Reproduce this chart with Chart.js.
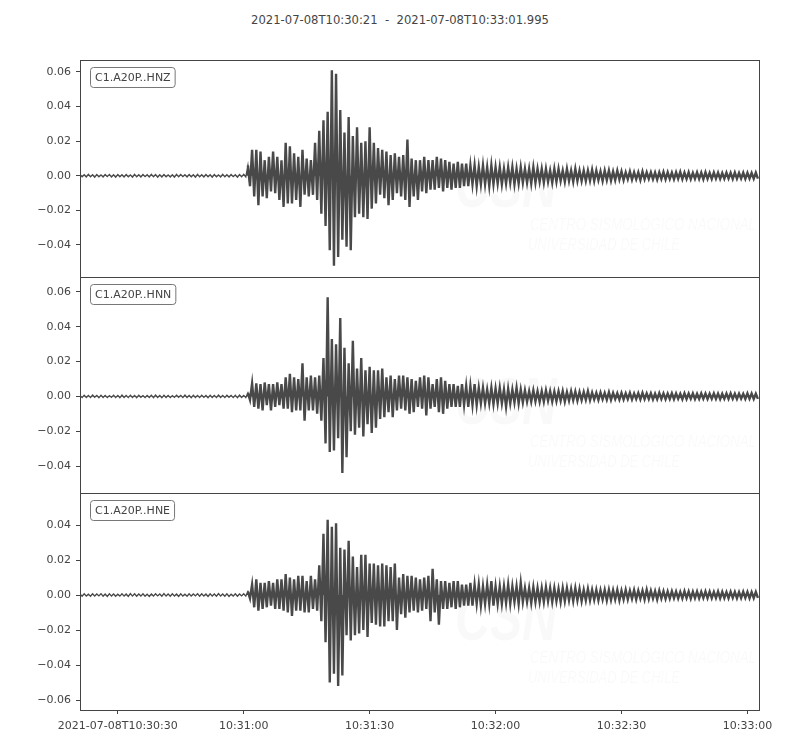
<!DOCTYPE html>
<html>
<head>
<meta charset="utf-8">
<script src="https://cdn.jsdelivr.net/npm/chart.js@4.4.1/dist/chart.umd.min.js"></script>
<style>
  html, body { margin: 0; padding: 0; background: #fff; }
  #wrap { position: relative; width: 800px; height: 750px; }
  #title { position: absolute; left: 0; top: 13px; width: 800px; text-align: center;
           font: 11.6px "DejaVu Sans"; color: #444; white-space: pre; }
  canvas { position: absolute; left: 0; }
</style>
</head>
<body>
<div id="wrap">
  <div id="title">2021-07-08T10:30:21  -  2021-07-08T10:33:01.995</div>
  <canvas id="hnz" width="800" height="245" style="top:46px"></canvas>
  <canvas id="hnn" width="800" height="244" style="top:263px"></canvas>
  <canvas id="hne" width="800" height="271" style="top:479px"></canvas>
</div>
<script>
// one value per second after 2021-07-08T10:30:21 (peak and trough of the trace in that second)
const hnzMax = [
  0.0007,0.0006,0.0008,0.0006,0.0007,0.0005,0.0007,0.0008,0.0006,0.0007,
  0.0006,0.0007,0.0005,0.0008,0.0006,0.0007,0.0006,0.0008,0.0007,0.0006,
  0.0007,0.0005,0.0006,0.0008,0.0007,0.0006,0.0007,0.0006,0.0008,0.0006,
  0.0007,0.0006,0.0007,0.0005,0.0008,0.0006,0.0007,0.0006,0.0007,0.0008,
  0.006,0.015,0.015,0.014,0.009,0.011,0.014,0.011,0.009,0.019,
  0.017,0.013,0.011,0.015,0.010,0.009,0.019,0.026,0.032,0.037,
  0.061,0.059,0.038,0.025,0.034,0.023,0.028,0.019,0.020,0.028,
  0.019,0.016,0.015,0.014,0.012,0.013,0.011,0.012,0.021,0.010,
  0.009,0.009,0.011,0.009,0.009,0.011,0.010,0.009,0.008,0.007,
  0.008,0.007,0.007,0.006,0.006,0.005,0.006,0.005,0.006,0.005,
  0.005,0.004,0.005,0.005,0.004,0.005,0.004,0.004,0.005,0.004,
  0.004,0.004,0.003,0.004,0.004,0.003,0.004,0.003,0.004,0.003,
  0.003,0.003,0.0035,0.003,0.0025,0.003,0.003,0.0025,0.003,0.0025,
  0.002,0.0025,0.002,0.002,0.0025,0.002,0.002,0.0018,0.002,0.0022,
  0.002,0.0018,0.002,0.0022,0.0018,0.002,0.0017,0.002,0.0018,0.002,
  0.0017,0.0019,0.0018,0.0016,0.0018,0.0017,0.0019,0.0016,0.0018,0.0017,
  0.0016,0.0018
];
const hnzMin = [
  -0.0006,-0.0007,-0.0006,-0.0008,-0.0006,-0.0007,-0.0005,-0.0007,-0.0008,-0.0006,
  -0.0007,-0.0006,-0.0008,-0.0006,-0.0007,-0.0005,-0.0007,-0.0006,-0.0008,-0.0007,
  -0.0006,-0.0007,-0.0008,-0.0006,-0.0005,-0.0007,-0.0006,-0.0008,-0.0006,-0.0007,
  -0.0006,-0.0008,-0.0006,-0.0007,-0.0006,-0.0007,-0.0005,-0.0008,-0.0006,-0.0007,
  -0.006,-0.012,-0.017,-0.012,-0.013,-0.009,-0.010,-0.014,-0.018,-0.016,
  -0.016,-0.014,-0.018,-0.011,-0.012,-0.011,-0.014,-0.022,-0.029,-0.043,
  -0.052,-0.047,-0.037,-0.041,-0.043,-0.024,-0.022,-0.024,-0.025,-0.019,
  -0.016,-0.011,-0.013,-0.017,-0.014,-0.010,-0.012,-0.014,-0.018,-0.012,
  -0.014,-0.009,-0.010,-0.008,-0.008,-0.007,-0.009,-0.007,-0.008,-0.007,
  -0.007,-0.006,-0.006,-0.005,-0.006,-0.005,-0.005,-0.006,-0.005,-0.0045,
  -0.005,-0.0045,-0.004,-0.005,-0.0045,-0.004,-0.004,-0.0045,-0.004,-0.0035,
  -0.004,-0.0035,-0.004,-0.0035,-0.003,-0.0035,-0.003,-0.0035,-0.003,-0.003,
  -0.003,-0.0028,-0.003,-0.0025,-0.003,-0.0025,-0.0028,-0.0025,-0.0022,-0.0025,
  -0.002,-0.0022,-0.002,-0.0024,-0.002,-0.0018,-0.002,-0.0022,-0.0018,-0.002,
  -0.0018,-0.002,-0.0017,-0.002,-0.0018,-0.0019,-0.0017,-0.0018,-0.002,-0.0017,
  -0.0018,-0.0016,-0.0018,-0.0017,-0.0016,-0.0018,-0.0017,-0.0016,-0.0018,-0.0016,
  -0.0017,-0.0016
];
const hnnMax = [
  0.0006,0.0007,0.0006,0.0008,0.0006,0.0007,0.0006,0.0005,0.0007,0.0006,
  0.0008,0.0006,0.0007,0.0006,0.0007,0.0005,0.0006,0.0007,0.0008,0.0006,
  0.0007,0.0006,0.0005,0.0007,0.0006,0.0008,0.0006,0.0007,0.0006,0.0007,
  0.0005,0.0007,0.0006,0.0008,0.0006,0.0007,0.0006,0.0007,0.0008,0.0006,
  0.002,0.0075,0.0075,0.007,0.008,0.007,0.007,0.008,0.007,0.011,
  0.013,0.011,0.010,0.019,0.011,0.012,0.011,0.012,0.022,0.057,
  0.033,0.030,0.045,0.028,0.019,0.032,0.016,0.022,0.015,0.017,
  0.015,0.015,0.016,0.011,0.012,0.010,0.012,0.012,0.011,0.010,
  0.009,0.011,0.012,0.011,0.007,0.010,0.011,0.009,0.007,0.007,
  0.006,0.007,0.006,0.006,0.007,0.005,0.005,0.004,0.005,0.0045,
  0.005,0.004,0.0045,0.004,0.005,0.004,0.0035,0.003,0.0035,0.003,
  0.003,0.0035,0.003,0.0028,0.003,0.003,0.0025,0.003,0.0028,0.0025,
  0.0025,0.003,0.0022,0.002,0.0022,0.002,0.0024,0.002,0.0018,0.002,
  0.0018,0.002,0.0017,0.0019,0.002,0.0017,0.0018,0.0016,0.0019,0.0017,
  0.0016,0.0018,0.0017,0.0015,0.0018,0.0016,0.0017,0.0015,0.0017,0.0016,
  0.0015,0.0017,0.0016,0.0015,0.0016,0.0017,0.0015,0.0016,0.0015,0.0017,
  0.0016,0.0015
];
const hnnMin = [
  -0.0007,-0.0006,-0.0007,-0.0005,-0.0008,-0.0006,-0.0007,-0.0006,-0.0007,-0.0008,
  -0.0006,-0.0007,-0.0006,-0.0008,-0.0005,-0.0007,-0.0006,-0.0007,-0.0006,-0.0008,
  -0.0006,-0.0007,-0.0006,-0.0005,-0.0007,-0.0006,-0.0008,-0.0006,-0.0007,-0.0006,
  -0.0008,-0.0006,-0.0007,-0.0006,-0.0007,-0.0005,-0.0007,-0.0008,-0.0006,-0.0007,
  -0.002,-0.006,-0.007,-0.008,-0.005,-0.008,-0.006,-0.005,-0.007,-0.007,
  -0.009,-0.008,-0.008,-0.014,-0.008,-0.008,-0.010,-0.014,-0.027,-0.032,
  -0.031,-0.024,-0.044,-0.035,-0.020,-0.022,-0.018,-0.023,-0.016,-0.021,
  -0.018,-0.013,-0.012,-0.009,-0.012,-0.008,-0.007,-0.008,-0.010,-0.009,
  -0.006,-0.007,-0.011,-0.007,-0.006,-0.009,-0.010,-0.007,-0.006,-0.006,
  -0.006,-0.005,-0.006,-0.005,-0.005,-0.004,-0.004,-0.004,-0.0045,-0.004,
  -0.004,-0.006,-0.004,-0.0035,-0.004,-0.0035,-0.003,-0.003,-0.0028,-0.003,
  -0.003,-0.0025,-0.003,-0.0028,-0.0025,-0.003,-0.0025,-0.0022,-0.0025,-0.0022,
  -0.002,-0.0022,-0.0018,-0.002,-0.0017,-0.0019,-0.002,-0.0016,-0.0018,-0.0017,
  -0.0016,-0.0018,-0.0015,-0.0017,-0.0016,-0.0015,-0.0017,-0.0016,-0.0015,-0.0016,
  -0.0015,-0.0016,-0.0014,-0.0016,-0.0015,-0.0014,-0.0016,-0.0015,-0.0014,-0.0015,
  -0.0014,-0.0015,-0.0016,-0.0014,-0.0015,-0.0014,-0.0015,-0.0013,-0.0015,-0.0014,
  -0.0015,-0.0014
];
const hneMax = [
  0.0006,0.0007,0.0005,0.0007,0.0006,0.0008,0.0006,0.0007,0.0006,0.0005,
  0.0007,0.0006,0.0008,0.0007,0.0006,0.0007,0.0005,0.0006,0.0007,0.0006,
  0.0008,0.0006,0.0007,0.0006,0.0007,0.0005,0.0007,0.0006,0.0008,0.0007,
  0.0006,0.0007,0.0006,0.0008,0.0006,0.0007,0.0005,0.0007,0.0006,0.0007,
  0.002,0.006,0.009,0.007,0.007,0.008,0.007,0.009,0.009,0.012,
  0.010,0.009,0.011,0.011,0.008,0.011,0.009,0.017,0.035,0.043,
  0.039,0.041,0.027,0.026,0.031,0.022,0.016,0.023,0.023,0.018,
  0.018,0.017,0.018,0.017,0.016,0.018,0.010,0.012,0.011,0.011,
  0.010,0.009,0.010,0.011,0.015,0.009,0.008,0.008,0.007,0.008,
  0.008,0.006,0.006,0.007,0.006,0.006,0.005,0.006,0.008,0.005,
  0.005,0.005,0.006,0.005,0.005,0.007,0.004,0.004,0.0045,0.004,
  0.004,0.0045,0.004,0.004,0.0035,0.004,0.004,0.0035,0.004,0.0035,
  0.003,0.0035,0.003,0.003,0.0028,0.003,0.003,0.0028,0.003,0.0025,
  0.003,0.0025,0.0028,0.0025,0.0025,0.003,0.0025,0.0022,0.0025,0.0022,
  0.002,0.0022,0.002,0.0018,0.0022,0.002,0.0019,0.002,0.0018,0.002,
  0.0019,0.0018,0.002,0.0018,0.0017,0.0019,0.0018,0.0017,0.0019,0.0018,
  0.0017,0.0018
];
const hneMin = [
  -0.0007,-0.0006,-0.0007,-0.0006,-0.0005,-0.0007,-0.0008,-0.0006,-0.0007,-0.0006,
  -0.0006,-0.0008,-0.0006,-0.0007,-0.0006,-0.0007,-0.0008,-0.0006,-0.0005,-0.0007,
  -0.0006,-0.0007,-0.0006,-0.0008,-0.0006,-0.0007,-0.0006,-0.0005,-0.0007,-0.0006,
  -0.0008,-0.0006,-0.0007,-0.0006,-0.0007,-0.0008,-0.0006,-0.0007,-0.0005,-0.0006,
  -0.002,-0.007,-0.009,-0.008,-0.007,-0.006,-0.008,-0.008,-0.009,-0.010,
  -0.012,-0.009,-0.009,-0.010,-0.010,-0.008,-0.009,-0.015,-0.027,-0.050,
  -0.045,-0.052,-0.046,-0.023,-0.026,-0.023,-0.022,-0.020,-0.024,-0.016,
  -0.017,-0.018,-0.018,-0.015,-0.015,-0.020,-0.011,-0.013,-0.010,-0.009,
  -0.010,-0.009,-0.008,-0.015,-0.010,-0.017,-0.008,-0.008,-0.007,-0.008,
  -0.007,-0.006,-0.006,-0.006,-0.005,-0.006,-0.005,-0.005,-0.006,-0.005,
  -0.005,-0.0045,-0.005,-0.004,-0.005,-0.004,-0.004,-0.0045,-0.004,-0.004,
  -0.004,-0.0035,-0.004,-0.0035,-0.004,-0.0035,-0.003,-0.0035,-0.003,-0.0035,
  -0.003,-0.003,-0.0028,-0.003,-0.0025,-0.003,-0.0028,-0.0025,-0.003,-0.0025,
  -0.0025,-0.0022,-0.0025,-0.002,-0.0025,-0.0022,-0.002,-0.0025,-0.002,-0.0022,
  -0.002,-0.0018,-0.002,-0.0019,-0.0017,-0.002,-0.0018,-0.0019,-0.0017,-0.0018,
  -0.0018,-0.0017,-0.0019,-0.0017,-0.0018,-0.0016,-0.0018,-0.0017,-0.0016,-0.0018,
  -0.0017,-0.0016
];

const xRange = [0, 161.995];
const xTicks = [9, 39, 69, 99, 129, 159];
const xTickLabels = ['2021-07-08T10:30:30', '10:31:00', '10:31:30', '10:32:00', '10:32:30', '10:33:00'];
const onset = 40; // first second of the event; thinner pen before it

const hnzRange = [-0.0585, 0.0669];
const hnnRange = [-0.0555, 0.0686];
const hneRange = [-0.0657, 0.0583];
const hnzTicks = [-0.04, -0.02, 0, 0.02, 0.04, 0.06];
const hnnTicks = [-0.04, -0.02, 0, 0.02, 0.04, 0.06];
const hneTicks = [-0.06, -0.04, -0.02, 0, 0.02, 0.04];

const INK = '#494949';
const TEXT = '#444';
const FONT = { family: 'DejaVu Sans', size: 11 };
const PAD = 14;

// peak at the start of each second, trough half a second later
function trace(maxs, mins, from, to) {
  const pts = [];
  for (let i = from; i < to; i++) {
    pts.push({ x: i, y: maxs[i] });
    pts.push({ x: i + 0.5, y: mins[i] });
  }
  return pts;
}

function fmtY(v) {
  if (Math.abs(v) < 1e-9) return '0.00';
  return v.toFixed(2).replace('-', '\u2212');
}

const panelDeco = {
  id: 'panelDeco',
  beforeDatasetsDraw(chart) {
    const { ctx, chartArea: a } = chart;
    ctx.save();
    ctx.fillStyle = 'rgba(0,0,0,0.025)';
    ctx.font = 'italic bold 66px "Liberation Sans"';
    ctx.fillText('CSN', a.left + 375, a.top + 147, 102);
    ctx.font = 'italic 17px "Liberation Sans"';
    ctx.fillText('CENTRO SISMOLÓGICO NACIONAL', a.left + 450, a.top + 170, 226);
    ctx.fillText('UNIVERSIDAD DE CHILE', a.left + 448, a.top + 190, 152);
    ctx.restore();
  },
  afterDraw(chart, args, opts) {
    const { ctx, chartArea: a } = chart;
    ctx.save();
    ctx.strokeStyle = TEXT;
    ctx.lineWidth = 1;
    ctx.strokeRect(Math.round(a.left) + 0.5, Math.round(a.top) + 0.5,
                   Math.round(a.right - a.left) - 1, Math.round(a.bottom - a.top));
    ctx.font = '11px "DejaVu Sans"';
    const w = ctx.measureText(opts.label).width;
    const bx = a.left + 10.5, by = a.top + 7.5, bw = w + 9, bh = 20;
    ctx.beginPath();
    ctx.roundRect(bx, by, bw, bh, 3);
    ctx.fillStyle = '#fff';
    ctx.fill();
    ctx.strokeStyle = '#777';
    ctx.stroke();
    ctx.fillStyle = TEXT;
    ctx.textBaseline = 'middle';
    ctx.fillText(opts.label, bx + 4.5, by + bh / 2 + 0.5);
    ctx.restore();
  }
};

function makePanel(id, label, maxs, mins, yRange, yTicks, showX) {
  const xScale = {
    type: 'linear',
    min: xRange[0],
    max: xRange[1],
    display: showX,
    afterBuildTicks: s => { s.ticks = xTicks.map(v => ({ value: v })); },
    ticks: {
      autoSkip: false, maxRotation: 0, padding: 6, color: TEXT, font: FONT,
      callback: (v, i) => xTickLabels[i]
    },
    grid: { drawOnChartArea: false, tickLength: 4, tickColor: TEXT },
    border: { display: false }
  };
  if (showX) xScale.afterFit = s => { s.height = 40; };
  const pen = { borderColor: INK, backgroundColor: INK, pointRadius: 0, tension: 0, fill: 'origin' };
  return new Chart(document.getElementById(id), {
    type: 'line',
    data: {
      datasets: [
        Object.assign({ data: trace(maxs, mins, 0, onset + 1), borderWidth: 1.3 }, pen),
        Object.assign({ data: trace(maxs, mins, onset, maxs.length), borderWidth: 2.4 }, pen)
      ]
    },
    options: {
      responsive: false,
      animation: false,
      layout: { padding: { left: 0, right: 40, top: PAD, bottom: showX ? 0 : PAD } },
      plugins: {
        legend: { display: false },
        tooltip: { enabled: false },
        panelDeco: { label: label }
      },
      scales: {
        x: xScale,
        y: {
          min: yRange[0],
          max: yRange[1],
          afterFit: s => { s.width = 80; },
          afterBuildTicks: s => { s.ticks = yTicks.map(v => ({ value: v })); },
          ticks: { padding: 5, color: TEXT, font: FONT, callback: v => fmtY(v) },
          grid: { drawOnChartArea: false, tickLength: 4, tickColor: TEXT },
          border: { display: false }
        }
      }
    },
    plugins: [panelDeco]
  });
}

makePanel('hnz', 'C1.A20P..HNZ', hnzMax, hnzMin, hnzRange, hnzTicks, false);
makePanel('hnn', 'C1.A20P..HNN', hnnMax, hnnMin, hnnRange, hnnTicks, false);
makePanel('hne', 'C1.A20P..HNE', hneMax, hneMin, hneRange, hneTicks, true);
</script>
</body>
</html>
